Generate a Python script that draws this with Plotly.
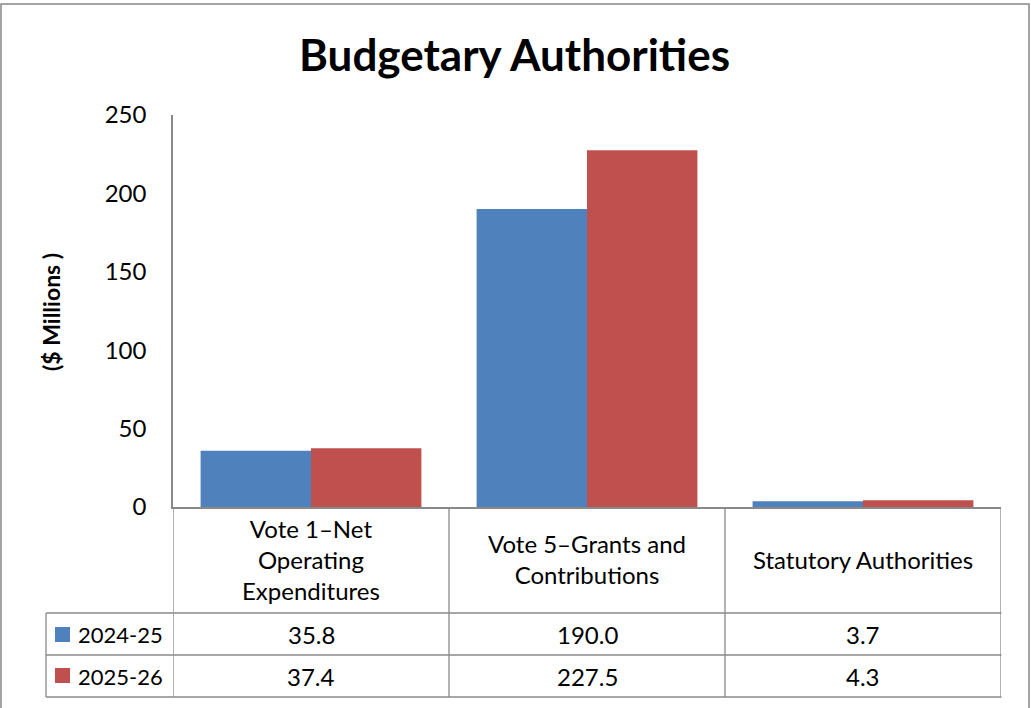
import plotly.graph_objects as go

# ---- data ----
categories = ["Vote 1–Net Operating Expenditures",
              "Vote 5–Grants and Contributions",
              "Statutory Authorities"]
header_labels = ["Vote 1–Net<br>Operating<br>Expenditures",
                 "Vote 5–Grants and<br>Contributions",
                 "Statutory Authorities"]
series_names = ["2024-25", "2025-26"]
values_2024_25 = [35.8, 190.0, 3.7]
values_2025_26 = [37.4, 227.5, 4.3]
y_ticks = [0, 50, 100, 150, 200, 250]

colors = ["#4F81BD", "#C0504D"]
FONT = "Lato"
GRID = "#898989"
BODY = 24

# ---- geometry helpers (pixel -> paper) ----
W, H = 1031, 708
L, R, T, B = 173, 30, 115, 201
PW, PH = W - L - R, H - T - B


def px(x):
    return (x - L) / PW


def py(y):
    return (H - B - y) / PH


fig = go.Figure()
for name, vals, col in zip(series_names, [values_2024_25, values_2025_26], colors):
    fig.add_trace(go.Bar(x=categories, y=vals, name=name,
                         marker=dict(color=col, line=dict(width=0))))

shapes = []
# table horizontal lines
for yy in [613, 655, 697]:
    shapes.append(dict(type="line", xref="paper", yref="paper",
                       x0=px(46), x1=px(1001.5), y0=py(yy), y1=py(yy),
                       line=dict(color=GRID, width=1.3)))
# table vertical column boundaries (category scale)
for xb in [-0.5, 0.5, 1.5, 2.5]:
    shapes.append(dict(type="line", xref="x", yref="paper",
                       x0=xb, x1=xb, y0=py(507), y1=py(697),
                       line=dict(color=GRID, width=1.3)))
shapes.append(dict(type="line", xref="paper", yref="paper",
                   x0=px(46), x1=px(46), y0=py(613), y1=py(697),
                   line=dict(color=GRID, width=1.3)))
# legend keys
key_tops = [627, 668]
for col, top in zip(colors, key_tops):
    shapes.append(dict(type="rect", xref="paper", yref="paper",
                       x0=px(55), x1=px(70), y0=py(top), y1=py(top + 15),
                       fillcolor=col, line=dict(width=0)))
# outer chart border
shapes.append(dict(type="rect", xref="paper", yref="paper",
                   x0=px(1), x1=px(1029), y0=py(720), y1=py(4),
                   line=dict(color="#878787", width=1.5), fillcolor="rgba(0,0,0,0)",
                   layer="below"))

annotations = []
# title
annotations.append(dict(text="<b>Budgetary Authorities</b>", xref="paper", yref="paper",
                        x=px(514), y=py(54), xanchor="center", yanchor="middle",
                        showarrow=False, font=dict(family=FONT, size=44, color="black")))
# y axis title
annotations.append(dict(text="<b>($ Millions )</b>", xref="paper", yref="paper",
                        x=px(51), y=py(312), textangle=-90, xanchor="center", yanchor="middle",
                        showarrow=False, font=dict(family=FONT, size=23, color="black")))
# header cells
for cat, lab in zip(categories, header_labels):
    annotations.append(dict(text=lab, xref="x", yref="paper", x=cat, y=py(559),
                            xanchor="center", yanchor="middle", showarrow=False,
                            font=dict(family=FONT, size=BODY, color="black")))
# data rows
row_centers = [634, 676]
for name, vals, yc in zip(series_names, [values_2024_25, values_2025_26], row_centers):
    annotations.append(dict(text=name, xref="paper", yref="paper", x=px(76), y=py(yc),
                            xanchor="left", yanchor="middle", showarrow=False,
                            font=dict(family=FONT, size=22, color="black")))
    for cat, v in zip(categories, vals):
        annotations.append(dict(text=f"{v:.1f}", xref="x", yref="paper", x=cat, y=py(yc),
                                xanchor="center", yanchor="middle", showarrow=False,
                                font=dict(family=FONT, size=BODY, color="black")))

fig.update_layout(
    width=W, height=H,
    margin=dict(l=L, r=R, t=T, b=B, pad=0),
    paper_bgcolor="white", plot_bgcolor="white",
    barmode="group", bargap=0.2, bargroupgap=0,
    showlegend=False,
    shapes=shapes, annotations=annotations,
    font=dict(family=FONT, size=BODY, color="black"),
    xaxis=dict(type="category", range=[-0.5, 2.5], showticklabels=False, ticks="",
               showline=True, linecolor=GRID, linewidth=2, showgrid=False, zeroline=False),
    yaxis=dict(range=[0, 250], tickvals=y_ticks, ticktext=[str(t) for t in y_ticks],
               ticks="", ticklabelstandoff=20, showline=True, linecolor=GRID, linewidth=1.5,
               showgrid=False, zeroline=False,
               tickfont=dict(family=FONT, size=BODY, color="black")),
)

fig.write_html("out.html")
